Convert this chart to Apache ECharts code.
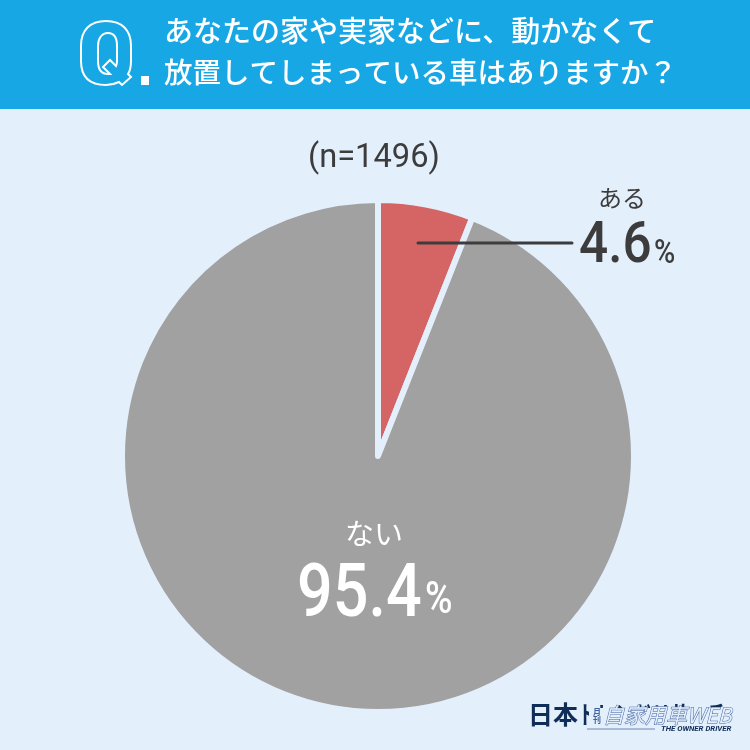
<!DOCTYPE html>
<html>
<head>
<meta charset="utf-8">
<style>html,body{margin:0;padding:0;background:#e4effc}#main{width:750px;height:750px}</style>
<script src="https://cdn.jsdelivr.net/npm/echarts@6/dist/echarts.min.js"></script>
</head>
<body>
<div id="main"></div>
<script>
var categories = ['ある', 'ない'];
var labelValues = ['4.6', '95.4'];
// the slice in the picture is drawn wider than its 4.6% label, so the drawn share is kept apart
var drawnValues = [6.0, 94.0];
var titleLines = ['あなたの家や実家などに、動かなくて', '放置してしまっている車はありますか？'];
var sampleText = '(n=1496)';

var jp = '"Noto Sans CJK JP"';
var num = 'Roboto';
var dark = '#3c3c3c';
var navy = '#0f2d57';
var logoBlue = '#3f5f9f';
var bg = '#e4effc';

// outline of the big Q in the header
var qPath = 'M106 21C90 21 81 30 81 46L81 61C81 77 90 85 106 85C111 85 115 84 119 82L122 85L131 77L128 74C130 71 131 66 131 61L131 46C131 30 122 21 106 21Z' +
	'M108 33C102 33 98 38 98 46L98 61C98 70 102 74 108 74L110 74L103 67L110 60L116 66C117 64 117 62 117 61L117 46C117 38 114 33 108 33Z';
echarts.graphic.registerShape('qMark', echarts.graphic.extendPath(qPath, {}));

function txt(x, y, text, font, fill, extra) {
	var o = {type: 'text', z: 10, x: x, y: y, style: {text: text, font: font, fill: fill, verticalAlign: 'middle'}};
	if (extra && extra.align) o.style.align = extra.align;
	if (extra && extra.scaleX) o.scaleX = extra.scaleX;
	return o;
}

var myChart = echarts.init(document.getElementById('main'));
myChart.setOption({
	backgroundColor: bg,
	animation: false,
	series: [{
		type: 'pie',
		center: [378, 456],
		radius: [0, 256],
		startAngle: 90,
		clockwise: true,
		silent: true,
		label: {show: false},
		labelLine: {show: false},
		itemStyle: {borderColor: bg, borderWidth: 6, borderJoin: 'round'},
		data: [
			{name: categories[0], value: drawnValues[0], itemStyle: {color: '#d56464'}},
			{name: categories[1], value: drawnValues[1], itemStyle: {color: '#a1a1a1'}}
		]
	}],
	graphic: [
		{type: 'rect', z: 5, shape: {x: 0, y: 0, width: 750, height: 109}, style: {fill: '#17a7e5'}},
		{type: 'qMark', z: 10, style: {fill: 'none', stroke: '#fff', lineWidth: 2}},
		{type: 'rect', z: 10, shape: {x: 141, y: 76, width: 8, height: 9}, style: {fill: '#fff'}},
		txt(164, 31, titleLines[0], '500 29px ' + jp, '#fff'),
		txt(164, 72, titleLines[1], '500 28.5px ' + jp, '#fff'),
		txt(308, 158, sampleText, '400 34px ' + num, dark, {scaleX: 0.96}),
		{type: 'line', z: 10, shape: {x1: 418, y1: 243, x2: 572, y2: 243}, style: {stroke: dark, lineWidth: 3, lineCap: 'round'}},
		txt(622, 198, categories[0], '400 24px ' + jp, dark, {align: 'center'}),
		txt(579, 248, labelValues[0], '500 57px ' + num, dark, {scaleX: 0.9}),
		txt(654, 254, '%', '500 34px ' + num, dark, {scaleX: 0.85}),
		txt(374, 534, categories[1], '400 29px ' + jp, '#fff', {align: 'center'}),
		txt(297, 597, labelValues[1], '500 74px ' + num, '#fff', {scaleX: 0.85}),
		txt(425, 602, '%', '500 44px ' + num, '#fff', {scaleX: 0.85}),
		// logo block: research company name half covered by the magazine mark
		txt(528, 714, '日本', '700 25px ' + jp, navy),
		txt(578, 714, 'トレンドリサーチ', '700 25px ' + jp, navy, {scaleX: 0.74}),
		{type: 'rect', z: 11, shape: {x: 589, y: 708, width: 146, height: 28}, style: {fill: bg}},
		{type: 'text', z: 12, x: 593, y: 716, style: {text: '月\n刊', font: '700 8px ' + jp, fill: logoBlue, verticalAlign: 'middle'}},
		{type: 'text', z: 12, x: 603, y: 715, style: {text: '自家用車WEB', font: 'italic 400 21px ' + jp, fill: bg, stroke: logoBlue, lineWidth: 1, verticalAlign: 'middle'}},
		{type: 'line', z: 12, shape: {x1: 587, y1: 729, x2: 655, y2: 729}, style: {stroke: '#6f84b0', lineWidth: 1}},
		{type: 'text', z: 12, x: 661, y: 729, style: {text: 'THE OWNER DRIVER', font: 'italic 700 7.8px ' + num, fill: navy, verticalAlign: 'middle'}}
	]
});
</script>
</body>
</html>
